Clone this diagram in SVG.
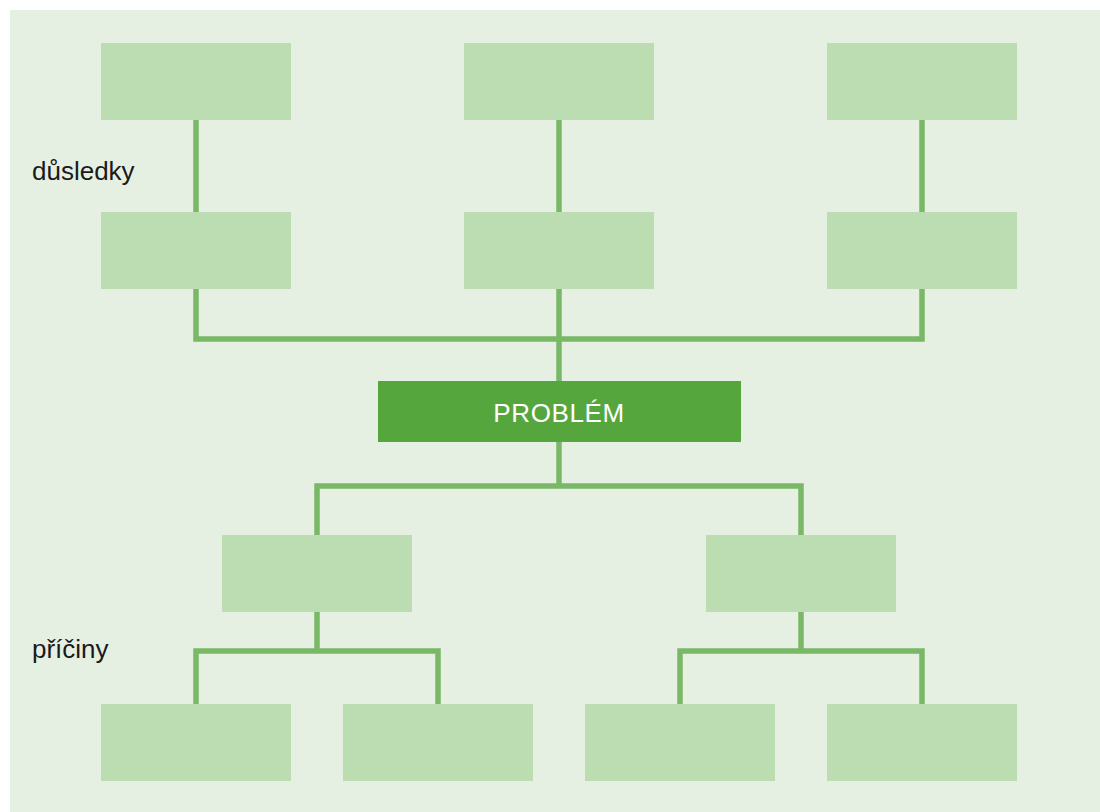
<svg xmlns="http://www.w3.org/2000/svg" width="1100" height="812" viewBox="0 0 1100 812">
<style>
.bg{fill:#e5f0e3}
.box{fill:#bcdcb2}
.main{fill:#56a63e}
.ln{fill:none;stroke:#78b866;stroke-width:5.5;stroke-linejoin:miter;stroke-linecap:butt}
.lbl{font-family:"Liberation Sans",Arial,sans-serif;font-size:26px;fill:#1a1a1a}
.ptxt{font-family:"Liberation Sans",Arial,sans-serif;font-size:26px;font-weight:500;letter-spacing:0.6px;fill:#ffffff;text-anchor:middle}
</style>
<rect class="bg" x="10" y="10" width="1090" height="802"/>
<g id="connectors">
<path class="ln" d="M196 120V212M559 120V212M922 120V212"/>
<path class="ln" d="M196 289V339H922V289M559 289V381"/>
<path class="ln" d="M559 442V486M317 535V486H801V535"/>
<path class="ln" d="M317 612V651M196 704V651H438V704"/>
<path class="ln" d="M801 612V651M680 704V651H922V704"/>
</g>
<g id="c1"><rect class="box" x="101" y="43" width="190" height="77"/></g>
<g id="c2"><rect class="box" x="464" y="43" width="190" height="77"/></g>
<g id="c3"><rect class="box" x="827" y="43" width="190" height="77"/></g>
<g id="c4"><rect class="box" x="101" y="212" width="190" height="77"/></g>
<g id="c5"><rect class="box" x="464" y="212" width="190" height="77"/></g>
<g id="c6"><rect class="box" x="827" y="212" width="190" height="77"/></g>
<g id="problem"><rect class="main" x="378" y="381" width="363" height="61"/><text class="ptxt" x="559" y="421.5">PROBLÉM</text></g>
<g id="p1"><rect class="box" x="222" y="535" width="190" height="77"/></g>
<g id="p2"><rect class="box" x="706" y="535" width="190" height="77"/></g>
<g id="p3"><rect class="box" x="101" y="704" width="190" height="77"/></g>
<g id="p4"><rect class="box" x="343" y="704" width="190" height="77"/></g>
<g id="p5"><rect class="box" x="585" y="704" width="190" height="77"/></g>
<g id="p6"><rect class="box" x="827" y="704" width="190" height="77"/></g>
<g id="labels">
<text class="lbl" x="32" y="180">důsledky</text>
<text class="lbl" x="32" y="658">příčiny</text>
</g>
</svg>
